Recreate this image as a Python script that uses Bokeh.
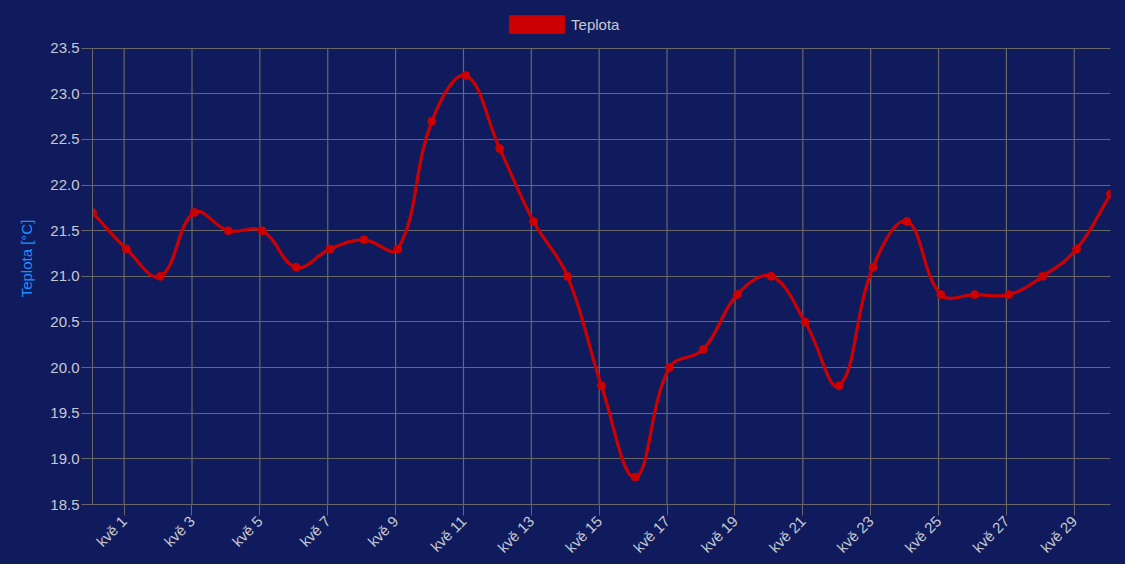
import math
from bokeh.plotting import figure
from bokeh.models import (Range1d, FixedTicker, PrintfTickFormatter, Legend, LegendItem,
                          ColumnDataSource)
from bokeh.embed import file_html
from bokeh.resources import INLINE

# ---- data ----
series_name = "Teplota"
y_title = "Teplota [°C]"
# day of May for each reading (0 = 30 April), readings taken ~01:38 each day
reading_day = list(range(0, 31))
reading_hour = 1.63
temps = [21.7, 21.3, 21.0, 21.7, 21.5, 21.5, 21.1, 21.3, 21.4, 21.3,
         22.7, 23.2, 22.4, 21.6, 21.0, 19.8, 18.8, 20.0, 20.2, 20.8,
         21.0, 20.5, 19.8, 21.1, 21.6, 20.8, 20.8, 20.8, 21.0, 21.3, 21.9]
tick_days = [1, 3, 5, 7, 9, 11, 13, 15, 17, 19, 21, 23, 25, 27, 29]
tick_labels = ["kvě 1", "kvě 3", "kvě 5", "kvě 7", "kvě 9", "kvě 11", "kvě 13",
               "kvě 15", "kvě 17", "kvě 19", "kvě 21", "kvě 23", "kvě 25",
               "kvě 27", "kvě 29"]
y_ticks = [18.5, 19.0, 19.5, 20.0, 20.5, 21.0, 21.5, 22.0, 22.5, 23.0, 23.5]

xs = [d + reading_hour / 24.0 for d in reading_day]

# ---- styles / layout ----
BG = "#0f1b5c"
GRID = "#676767"
RED = "#cc0000"
LABEL = "#c9c9d3"
FONT = "Liberation Sans"

W, H = 1125, 564
F_LEFT, F_RIGHT, F_TOP, F_BOTTOM = 92, 1110, 12, 508   # frame in px
PLOT_TOP = 48                                          # px of the top y tick
px_per_deg = (F_BOTTOM - PLOT_TOP) / (y_ticks[-1] - y_ticks[0])
y_end = y_ticks[-1] + (PLOT_TOP - F_TOP) / px_per_deg

p = figure(width=W, height=H, output_backend="svg", toolbar_location=None,
           x_range=Range1d(xs[0], xs[-1]), y_range=Range1d(y_ticks[0], y_end),
           min_border_left=F_LEFT, min_border_right=W - F_RIGHT,
           min_border_top=F_TOP, min_border_bottom=H - F_BOTTOM)
p.styles = {"background-color": BG}
p.background_fill_color = BG
p.border_fill_color = BG
p.outline_line_color = None

# vertical grid lines limited to the value range
p.segment(x0=tick_days, x1=tick_days, y0=y_ticks[0], y1=y_ticks[-1],
          line_color=GRID, line_width=1.2)

# spline like Chart.js (tension 0.4), computed in pixel space
sx = (F_RIGHT - F_LEFT) / (xs[-1] - xs[0])
sy = px_per_deg
tension = 0.4
P = [(x * sx, y * sy) for x, y in zip(xs, temps)]
n = len(P)
cp_prev, cp_next = [], []
for i in range(n):
    cur = P[i]
    prv = P[i - 1] if i > 0 else cur
    nxt = P[i + 1] if i < n - 1 else cur
    d01 = math.hypot(cur[0] - prv[0], cur[1] - prv[1])
    d12 = math.hypot(nxt[0] - cur[0], nxt[1] - cur[1])
    tot = d01 + d12
    s01 = d01 / tot if tot else 0
    s12 = d12 / tot if tot else 0
    fa, fb = tension * s01, tension * s12
    cp_prev.append((cur[0] - fa * (nxt[0] - prv[0]), cur[1] - fa * (nxt[1] - prv[1])))
    cp_next.append((cur[0] + fb * (nxt[0] - prv[0]), cur[1] + fb * (nxt[1] - prv[1])))

seg = dict(x0=xs[:-1], y0=temps[:-1], x1=xs[1:], y1=temps[1:],
           cx0=[c[0] / sx for c in cp_next[:-1]], cy0=[c[1] / sy for c in cp_next[:-1]],
           cx1=[c[0] / sx for c in cp_prev[1:]], cy1=[c[1] / sy for c in cp_prev[1:]])
p.bezier(x0="x0", y0="y0", x1="x1", y1="y1", cx0="cx0", cy0="cy0", cx1="cx1", cy1="cy1",
         source=ColumnDataSource(seg), line_color=RED, line_width=3.2, line_cap="round")
p.scatter(xs, temps, size=8, fill_color=RED, line_color=RED)

# legend box above the value area (swatch renderer holds no visible data)
nan = float("nan")
swatch = p.quad(left=[nan], right=[nan], top=[nan], bottom=[nan],
                fill_color=RED, line_color=RED, line_width=1)
GW, GH = 69, 22
legend = Legend(items=[LegendItem(label=series_name, renderers=[swatch], index=0)],
                location=(509 - 0.1 * GW - F_LEFT, F_BOTTOM - 37 - 0.1 * GH),
                orientation="horizontal",
                glyph_width=GW, glyph_height=GH, label_standoff=0,
                padding=0, margin=0, spacing=0,
                background_fill_alpha=0, border_line_color=None,
                label_text_color=LABEL, label_text_font=FONT, label_text_font_size="15px")
p.add_layout(legend, "center")

# axes
xa = p.xaxis[0]
xa.ticker = FixedTicker(ticks=tick_days)
xa.major_label_overrides = {d: l for d, l in zip(tick_days, tick_labels)}
xa.major_label_orientation = math.pi / 4
xa.major_tick_out = 11
xa.major_tick_in = 0
xa.minor_tick_line_color = None
xa.major_label_standoff = 3
xa.axis_line_color = GRID
xa.major_tick_line_color = GRID
xa.major_label_text_color = LABEL
xa.major_label_text_font = FONT
xa.major_label_text_font_size = "15px"

ya = p.yaxis[0]
ya.ticker = FixedTicker(ticks=y_ticks)
ya.bounds = (y_ticks[0], y_ticks[-1])
ya.formatter = PrintfTickFormatter(format="%.1f")
ya.major_tick_out = 11
ya.major_tick_in = 0
ya.minor_tick_line_color = None
ya.major_label_standoff = 2
ya.axis_line_color = GRID
ya.major_tick_line_color = GRID
ya.major_label_text_color = LABEL
ya.major_label_text_font = FONT
ya.major_label_text_font_size = "15px"
ya.axis_label = y_title
ya.axis_label_text_color = "#1e90ff"
ya.axis_label_text_font = FONT
ya.axis_label_text_font_size = "15px"
ya.axis_label_text_font_style = "normal"
ya.axis_label_standoff = 12

p.xgrid.visible = False
p.ygrid.ticker = FixedTicker(ticks=y_ticks)
p.ygrid[0].grid_line_color = GRID
p.ygrid[0].grid_line_width = 1.2

open("out.html", "w").write(file_html(p, INLINE))
